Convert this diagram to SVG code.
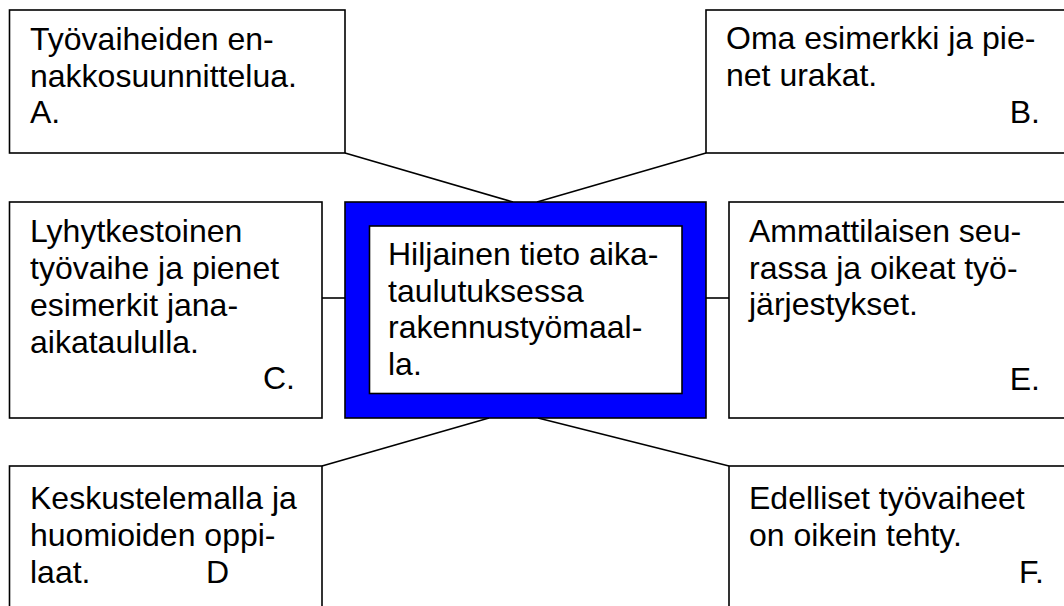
<svg xmlns="http://www.w3.org/2000/svg" width="1064" height="606" viewBox="0 0 1064 606">
<style>
.box{fill:#fff;stroke:#000;stroke-width:1.6}
.conn{stroke:#000;stroke-width:1.6;fill:none}
text{font-family:"Liberation Sans",Arial,sans-serif;font-size:32px;fill:#000}
.end{text-anchor:end}
</style>
<rect width="1064" height="606" fill="#fff"/>
<g id="connectors">
<line class="conn" x1="345" y1="153" x2="513" y2="202"/>
<line class="conn" x1="706" y1="153" x2="537" y2="202"/>
<line class="conn" x1="322" y1="298" x2="345" y2="298"/>
<line class="conn" x1="706" y1="298" x2="729" y2="298"/>
<line class="conn" x1="489" y1="418" x2="322" y2="466"/>
<line class="conn" x1="538" y1="418" x2="729" y2="466"/>
</g>
<g id="nodeA">
<rect class="box" x="9.5" y="10" width="335.5" height="143"/>
<text x="30" y="50">Työvaiheiden en-</text>
<text x="30" y="86.5">nakkosuunnittelua.</text>
<text x="30" y="123">A.</text>
</g>
<g id="nodeB">
<rect class="box" x="706" y="10" width="380" height="143"/>
<text x="726" y="48.5">Oma esimerkki ja pie-</text>
<text x="726" y="85.5">net urakat.</text>
<text class="end" x="1040" y="123">B.</text>
</g>
<g id="nodeC">
<rect class="box" x="9.5" y="202" width="312.5" height="216"/>
<text x="30" y="242">Lyhytkestoinen</text>
<text x="30" y="279">työvaihe ja pienet</text>
<text x="30" y="316">esimerkit jana-</text>
<text x="30" y="353">aikataululla.</text>
<text class="end" x="295" y="389">C.</text>
</g>
<g id="center">
<rect x="345" y="202" width="361" height="216" fill="#0000ff" stroke="#000" stroke-width="1.6"/>
<rect class="box" x="369.5" y="226" width="312.5" height="167.5"/>
<text x="388" y="265">Hiljainen tieto aika-</text>
<text x="388" y="301.5">taulutuksessa</text>
<text x="388" y="338">rakennustyömaal-</text>
<text x="388" y="375">la.</text>
</g>
<g id="nodeE">
<rect class="box" x="729" y="202" width="360" height="216"/>
<text x="749" y="242">Ammattilaisen seu-</text>
<text x="749" y="278.5">rassa ja oikeat työ-</text>
<text x="749" y="315">järjestykset.</text>
<text class="end" x="1040" y="389.5">E.</text>
</g>
<g id="nodeD">
<rect class="box" x="9.5" y="466" width="312.5" height="160"/>
<text x="30" y="509">Keskustelemalla ja</text>
<text x="30" y="546">huomioiden oppi-</text>
<text x="30" y="583">laat.</text>
<text x="206" y="583">D</text>
</g>
<g id="nodeF">
<rect class="box" x="729" y="466" width="360" height="160"/>
<text x="749" y="509">Edelliset työvaiheet</text>
<text x="749" y="546">on oikein tehty.</text>
<text class="end" x="1044" y="583">F.</text>
</g>
</svg>
